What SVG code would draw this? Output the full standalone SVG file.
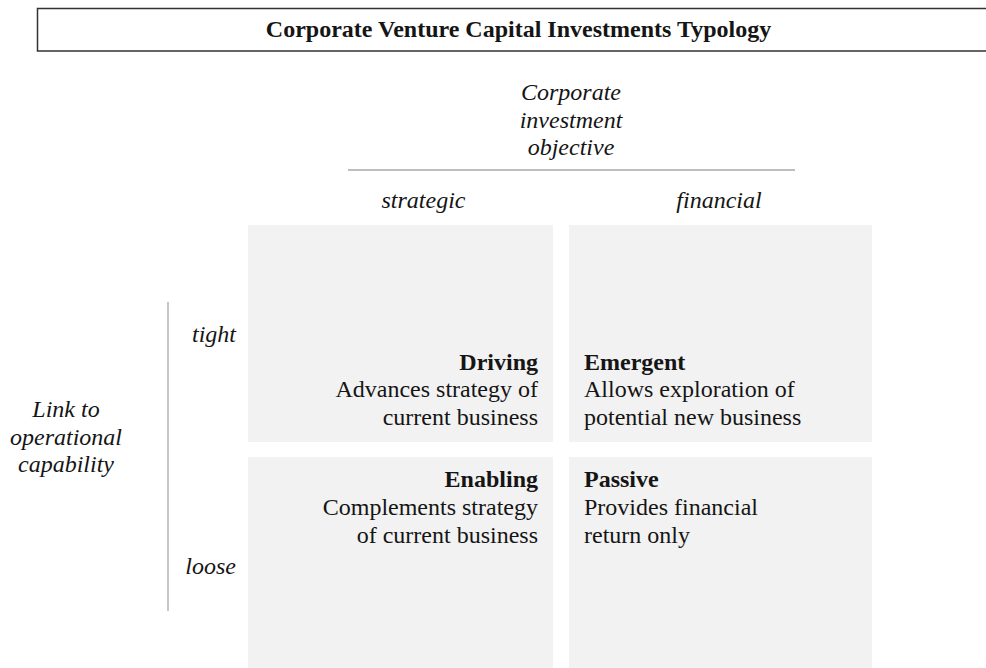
<svg xmlns="http://www.w3.org/2000/svg" width="986" height="668" viewBox="0 0 986 668">
  <style>
    text { font-family: "Liberation Serif", "Times New Roman", serif; font-size: 24px; fill: #151515; }
    .title { font-weight: bold; text-anchor: middle; }
    .axis { font-style: italic; }
    .mid { text-anchor: middle; }
    .end { text-anchor: end; }
    .name { font-weight: bold; }
    .cell { fill: #f2f2f2; }
    .rule { stroke: #a8a8a8; stroke-width: 1.3; fill: none; }
  </style>
  <rect width="986" height="668" fill="#ffffff"/>

  <!-- heading box, running off the right edge -->
  <g id="title">
    <rect x="37.5" y="8.5" width="962" height="42.5" fill="none" stroke="#333333" stroke-width="1.5"/>
    <text class="title" x="518.5" y="37">Corporate Venture Capital Investments Typology</text>
  </g>

  <!-- horizontal axis: corporate investment objective -->
  <g id="axis-objective">
    <text class="axis mid" x="571" y="100">Corporate</text>
    <text class="axis mid" x="571" y="127.5">investment</text>
    <text class="axis mid" x="571" y="155">objective</text>
    <line class="rule" x1="348" y1="170" x2="795" y2="170"/>
    <text class="axis mid" x="423.5" y="208">strategic</text>
    <text class="axis mid" x="719" y="208">financial</text>
  </g>

  <!-- vertical axis: link to operational capability -->
  <g id="axis-link">
    <text class="axis mid" x="66" y="417">Link to</text>
    <text class="axis mid" x="66" y="444.5">operational</text>
    <text class="axis mid" x="66" y="472">capability</text>
    <line class="rule" x1="168" y1="302" x2="168" y2="611"/>
    <text class="axis end" x="236" y="342">tight</text>
    <text class="axis end" x="236" y="574">loose</text>
  </g>

  <!-- quadrants -->
  <g id="driving">
    <rect class="cell" x="248" y="225" width="305" height="217"/>
    <text class="end name" x="538" y="369.5">Driving</text>
    <text class="end" x="538" y="397">Advances strategy of</text>
    <text class="end" x="538" y="425">current business</text>
  </g>

  <g id="emergent">
    <rect class="cell" x="569" y="225" width="303" height="217"/>
    <text class="name" x="584" y="369.5">Emergent</text>
    <text x="584" y="397">Allows exploration of</text>
    <text x="584" y="425">potential new business</text>
  </g>

  <g id="enabling">
    <rect class="cell" x="248" y="457" width="305" height="211"/>
    <text class="end name" x="538" y="487">Enabling</text>
    <text class="end" x="538" y="515">Complements strategy</text>
    <text class="end" x="538" y="543">of current business</text>
  </g>

  <g id="passive">
    <rect class="cell" x="569" y="457" width="303" height="211"/>
    <text class="name" x="584" y="487">Passive</text>
    <text x="584" y="515">Provides financial</text>
    <text x="584" y="543">return only</text>
  </g>

  <!-- no connectors in this chart -->
  <g id="connectors"/>
</svg>
